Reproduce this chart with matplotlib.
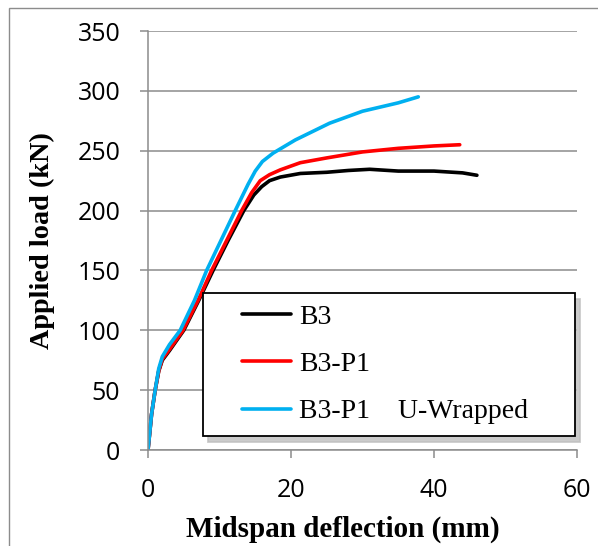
import matplotlib
matplotlib.use("Agg")
import matplotlib.pyplot as plt
from matplotlib.patches import Rectangle
from matplotlib.legend_handler import HandlerLine2D

# load-deflection readings (mm, kN)
b3_defl = [0, 0.5, 1, 1.5, 2, 3, 5, 7.1, 9.1, 11.2, 13.4, 14.8, 15.9, 17, 18.5,
           21.3, 25, 28, 31, 35, 40, 44, 46]
b3_load = [0, 30, 50, 66, 75, 83, 100, 125, 150, 175, 200, 213, 220, 225, 228,
           231, 232, 233.5, 234.5, 233, 233, 231.5, 229.5]

p1_defl = [0, 0.5, 1, 1.5, 2, 3, 4.9, 7, 8.9, 11, 13.1, 14.5, 15.7, 17, 18.5,
           21.3, 25, 30, 35, 40, 43.6]
p1_load = [0, 30, 50, 66, 76, 84, 100, 125, 150, 175, 200, 215, 225, 230, 234,
           240, 244, 249, 252, 254, 255]

uw_defl = [0, 0.5, 1, 1.5, 2, 3, 4.5, 6.5, 8.2, 10.2, 12.2, 14, 15, 16, 17.5,
           20.6, 25.4, 30, 35, 37.8]
uw_load = [0, 30, 50, 68, 78, 88, 100, 125, 150, 175, 200, 222, 233, 241, 248,
           259, 273, 283, 290, 295]

labels = ["B3", "B3-P1", "B3-P1    U-Wrapped"]
colors = ["#000000", "#ff0000", "#00b0f0"]

x_ticks = [0, 20, 40, 60]
y_ticks = [0, 50, 100, 150, 200, 250, 300, 350]

fig = plt.figure(figsize=(5.98, 5.46), dpi=100)
ax = fig.add_axes([0.2475, 0.1758, 0.7174, 0.7674])

series = [(b3_defl, b3_load), (p1_defl, p1_load), (uw_defl, uw_load)]
for (xs, ys), lab, col in zip(series, labels, colors):
    ax.plot(xs, ys, color=col, lw=2.6, label=lab, solid_capstyle="round")

ax.set_xlim(0, 60)
ax.set_ylim(0, 350)
ax.set_xticks(x_ticks)
ax.set_yticks(y_ticks)
ax.yaxis.grid(True, color="#8c8c8c", lw=1.1)
ax.set_axisbelow(True)

grey = "#8c8c8c"
for side in ["top", "right"]:
    ax.spines[side].set_visible(False)
for side in ["left", "bottom"]:
    ax.spines[side].set_color(grey)
    ax.spines[side].set_linewidth(1.1)

ax.tick_params(axis="both", colors=grey, length=6, width=1.1, labelcolor="black")
ax.tick_params(axis="y", pad=14)
ax.tick_params(axis="x", pad=14)
for t in ax.get_xticklabels() + ax.get_yticklabels():
    t.set_fontfamily("Open Sans")
    t.set_fontsize(18)

ax.set_xlabel("Midspan deflection (mm)", family="Liberation Serif",
              fontweight="bold", fontsize=21)
ax.set_ylabel("Applied load (kN)", family="Liberation Serif",
              fontweight="bold", fontsize=20.3)
ax.xaxis.set_label_coords(0.4545, -0.157)
ax.yaxis.set_label_coords(-0.217, 0.5)

# shift the legend lines right inside the box
handler = HandlerLine2D(xpad=1.0)
leg = ax.legend(loc="lower left", bbox_to_anchor=(0.128, 0.0335, 0.867, 0.32),
                mode="expand", borderaxespad=0,
                prop={"family": "Liberation Serif", "size": 20},
                handlelength=2.75, handletextpad=0.28, labelspacing=0.78,
                borderpad=0.42, frameon=True, fancybox=False,
                handler_map={plt.Line2D: handler},
                shadow={"color": "0.75", "alpha": 0.8, "ox": 4, "oy": -4})
leg.get_frame().set_edgecolor("black")
leg.get_frame().set_linewidth(1.3)

# outer chart border
fig.patches.append(Rectangle((9 / 598, -0.01), 1.0, 1 - 8 / 546 + 0.01,
                             transform=fig.transFigure, fill=False,
                             edgecolor="#8c8c8c", lw=1.0))

fig.savefig("out.png", dpi=100)
